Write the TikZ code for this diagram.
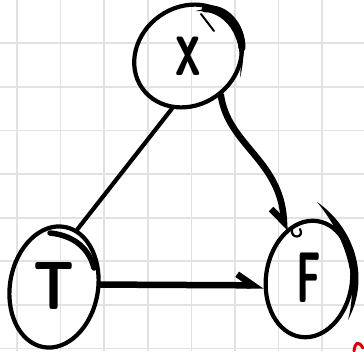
\documentclass[tikz,border=0pt]{standalone}
\usetikzlibrary{shapes.geometric,arrows.meta}
\definecolor{gridc}{RGB}{226,226,226}
\definecolor{redmark}{RGB}{215,0,0}
\tikzset{
  gridline/.style={draw=gridc, line width=1.7pt},
  circ/.style={ellipse, draw=black, line width=4.2pt, inner sep=0pt,
    font=\sffamily\bfseries\fontsize{56}{56}\selectfont},
  link/.style={draw=black, line width=4.2pt, line cap=round},
  heavy/.style={draw=black, line width=6.5pt, line cap=round},
  pen/.style={draw=black, line cap=round},
  ink/.style={fill=black},
}
\begin{document}
\begin{tikzpicture}[x=1pt,y=-1pt]
\useasboundingbox (0,0) rectangle (364,351);
\fill[white] (0,0) rectangle (364,351);
\foreach \i in {0,...,7} {
  \draw[gridline] ({17+43.6*\i},0) -- ({17+43.6*\i},351);
  \draw[gridline] (0,{43.3+43.6*\i}) -- (364,{43.3+43.6*\i});
}
% nodes
\node[circ, minimum width=112pt, minimum height=98pt, rotate=35] (X) at (188,56)
  {\rotatebox{-35}{\raisebox{-3pt}{\fontsize{60}{60}\selectfont\scalebox{0.85}[1.4]{x}}}};
\node[circ, minimum width=88pt, minimum height=122pt, rotate=-10] (T) at (54,287)
  {\rotatebox{10}{\raisebox{2pt}{\scalebox{1.0}[1.22]{T}}}};
\node[circ, minimum width=86pt, minimum height=117pt, rotate=-8] (F) at (309,279)
  {\rotatebox{8}{\raisebox{2pt}{\scalebox{0.72}[1.28]{F}}}};
% extra pen strokes of the hand-drawn circles
\fill[ink] (196,11) .. controls (230,0) and (252,30) .. (240,78)
  .. controls (244,35) and (226,10) .. (196,11) -- cycle;
\draw[pen, line width=7pt] (205,9) .. controls (225,6) and (242,25) .. (242,48);
\draw[pen, line width=2pt] (201,14) -- (214,31);
\draw[pen, line width=5.5pt] (50,233) .. controls (70,235) and (88,245) .. (94,268);
\fill[ink] (317,202) .. controls (352,226) and (372,275) .. (348,320)
  .. controls (360,275) and (342,232) .. (317,202) -- cycle;
\draw[pen, line width=2.2pt] (292,229) .. controls (290,240) and (305,238) .. (300,229);
% connectors
\draw[link] (X.218) -- (T.78);
\draw[heavy, -{Straight Barb[right,length=14pt,width=24pt]}] (X.-85) .. controls (228,145) and (280,160) .. (F.125);
\draw[heavy, -{Straight Barb[left,length=16pt,width=22pt]}] (T.13) -- (F.196);
% red mark
\draw[redmark, line width=3pt, line cap=round] (354,351) .. controls (355,343) and (358,340) .. (363,348);
\end{tikzpicture}
\end{document}
